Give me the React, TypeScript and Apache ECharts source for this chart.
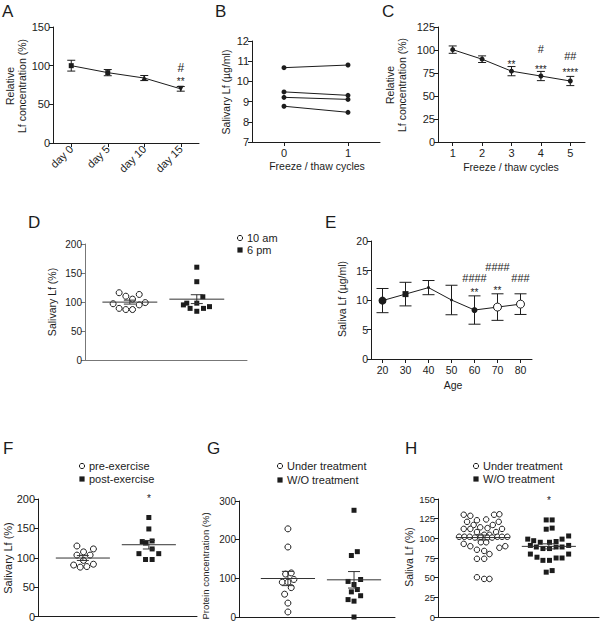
import React, { useEffect, useRef } from 'react';
import * as echarts from 'echarts';

const FONT = 'Liberation Sans, Arial, Helvetica, sans-serif';
const INK = '#1c1c1c';

// ---------- Panel A : storage days ----------
const daysA = ['day 0', 'day 5', 'day 10', 'day 15'];
const meanA = [100, 91, 84, 70];
const semA = [7, 4, 3.3, 3];
const symbolA = ['rect', 'rect', 'triangle', 'triangle'];
const rotateA = [0, 0, 0, 180];

// ---------- Panel B : freeze / thaw, individual samples ----------
const cyclesB = ['0', '1'];
const sampleB1 = [10.68, 10.81];
const sampleB2 = [9.48, 9.31];
const sampleB3 = [9.21, 9.11];
const sampleB4 = [8.77, 8.47];

// ---------- Panel C : freeze / thaw cycles ----------
const cyclesC = ['1', '2', '3', '4', '5'];
const meanC = [100.4, 90, 77, 71.7, 66.3];
const semC = [4, 3.6, 5, 5, 5];

// ---------- Panel D : time of day ----------
const dAmValues = [116, 110, 105, 113, 97, 89, 87, 87, 95, 99];
const dAmJitter = [-0.16, -0.06, 0.04, 0.14, -0.25, -0.16, -0.06, 0.04, 0.14, 0.23];
const dPmValues = [160, 135, 109, 95, 98, 98, 89, 84, 89, 92];
const dPmJitter = [0, 0, 0.09, -0.2, -0.15, 0, -0.1, 0, 0.1, 0.19];

// ---------- Panel E : age ----------
const agesE = ['20', '30', '40', '50', '60', '70', '80'];
const meanE = [9.9, 11, 12.1, 10, 8.3, 8.8, 9.3];
const semE = [2.05, 2, 1.2, 2.5, 2.4, 2.25, 1.75];
const markerE = ['big', 'square', 'small', 'small', 'dot', 'open', 'open'];

// ---------- Panel F : exercise ----------
const fPreValues = [120, 110, 104.5, 115, 104.5, 95.5, 87.6, 84, 85, 89];
const fPreJitter = [-0.09, 0.01, 0.11, 0.16, -0.09, 0.01, -0.14, -0.04, 0.06, 0.16];
const fPostValues = [168.5, 149, 127.5, 125, 128.6, 115, 107, 107, 97, 97];
const fPostJitter = [0, 0, -0.1, -0.05, 0.05, 0.05, -0.15, 0.15, -0.05, 0.05];

// ---------- Panel G : protein concentration ----------
const gUnderValues = [228, 181, 111, 114, 90, 90, 97, 76, 59, 36, 13];
const gUnderJitter = [0, 0, -0.035, 0.05, -0.085, 0, 0.09, 0.05, -0.05, 0, 0];
const gWoValues = [276, 169, 159, 92, 97, 84, 65, 71, 55, 45, 41, 0];
const gWoJitter = [0, 0.05, -0.04, -0.09, 0.1, 0, -0.04, 0.05, 0.1, -0.09, 0, 0];

// ---------- Panel H : saliva Lf ----------
const hUnderValues = [
  130, 128.6, 130, 130.6,
  121, 123, 124, 121,
  117, 114, 117,
  112, 112, 113, 112,
  108, 108,
  104.5, 104.5,
  102, 102, 102, 101, 102, 101, 101, 102, 102, 102,
  95, 95,
  93, 90, 88, 90,
  85.5, 84, 80,
  74, 74,
  50.5, 48.4, 48.4,
];
const hUnderJitter = [
  -0.29, -0.19, 0.17, 0.25,
  -0.24, -0.09, 0.05, 0.24,
  -0.14, -0.04, 0.15,
  -0.29, -0.19, 0.07, 0.29,
  -0.09, 0.2,
  0.02, 0.1,
  -0.36, -0.28, -0.2, -0.12, -0.03, 0.07, 0.14, 0.22, 0.29, 0.37,
  -0.03, 0.05,
  -0.29, -0.19, 0.25, 0.34,
  -0.09, 0.02, 0.1,
  -0.09, 0.02,
  -0.09, 0.02, 0.1,
];
const hWoValues = [
  123.4, 123.4,
  111.6, 113,
  99, 97,
  95, 95, 96, 99, 103,
  91, 89, 87, 87, 89, 89, 91,
  80, 76, 72, 72, 75, 75, 80,
  57, 59,
];
const hWoJitter = [
  -0.04, 0.05,
  -0.04, 0.05,
  -0.32, -0.23,
  -0.13, 0.01, 0.11, 0.2, 0.3,
  -0.28, -0.19, -0.09, 0.01, 0.11, 0.2, 0.3,
  -0.28, -0.18, -0.09, 0.01, 0.11, 0.2, 0.3,
  -0.04, 0.05,
];

// significance marks: [x, y, text]
const annA: [number, number, string][] = [[3, 97, '#'], [3, 83, '**']];
const annC: [number, number, string][] = [[2, 87, '**'], [3, 81.5, '***'], [3, 101, '#'], [4, 78, '****'], [4, 93, '##']];
const annE: [number, number, string][] = [[4, 13.8, '####'], [4, 11.7, '**'], [5, 15.6, '####'], [5, 12.1, '**'], [6, 13.8, '###']];
const annF: [number, number, string][] = [[2, 205, '*']];
const annH: [number, number, string][] = [[2, 151.5, '*']];

function avg(a: number[]) {
  return a.reduce((s, v) => s + v, 0) / a.length;
}
function sem(a: number[]) {
  const m = avg(a);
  const v = a.reduce((s, x) => s + (x - m) * (x - m), 0) / (a.length - 1);
  return Math.sqrt(v / a.length);
}

function axisLine(color = INK) {
  return { show: true, onZero: false, lineStyle: { color, width: 1 } };
}
function tick(color = INK) {
  return { show: true, length: 4, lineStyle: { color, width: 1 } };
}

function yValue(gridIndex: number, min: number, max: number, interval: number, size: number, color = INK) {
  return {
    type: 'value', gridIndex, min, max, interval,
    axisLine: axisLine(color), axisTick: tick(color), splitLine: { show: false },
    axisLabel: { color: INK, fontFamily: FONT, fontSize: size, margin: 3 },
  };
}
function xCat(gridIndex: number, data: string[], size: number, extra: any = {}) {
  return {
    type: 'category', gridIndex, data, boundaryGap: true,
    axisLine: axisLine(), axisTick: { ...tick(), alignWithLabel: true }, splitLine: { show: false },
    axisLabel: { color: INK, fontFamily: FONT, fontSize: size, margin: 5, ...extra },
  };
}
function xDot(gridIndex: number, min: number, max: number, color = INK) {
  return {
    type: 'value', gridIndex, min, max,
    axisLine: axisLine(color), axisTick: { show: false }, axisLabel: { show: false }, splitLine: { show: false },
  };
}

function errSeries(gi: number, means: number[], errs: number[], cap: number) {
  return {
    type: 'custom', xAxisIndex: gi, yAxisIndex: gi, z: 2, silent: true,
    data: means.map((m, i) => [i, m, errs[i]]),
    renderItem: (params: any, api: any) => {
      const x = api.value(0), m = api.value(1), e = api.value(2);
      const t = api.coord([x, m + e]);
      const b = api.coord([x, m - e]);
      const st = { stroke: INK, lineWidth: 1 };
      return {
        type: 'group',
        children: [
          { type: 'line', shape: { x1: t[0], y1: t[1], x2: b[0], y2: b[1] }, style: st },
          { type: 'line', shape: { x1: t[0] - cap, y1: t[1], x2: t[0] + cap, y2: t[1] }, style: st },
          { type: 'line', shape: { x1: b[0] - cap, y1: b[1], x2: b[0] + cap, y2: b[1] }, style: st },
        ],
      };
    },
  };
}

function summarySeries(gi: number, groups: number[][]) {
  const data = groups.map((g, i) => [i + 1, avg(g), sem(g)]);
  return {
    type: 'custom', xAxisIndex: gi, yAxisIndex: gi, z: 4, silent: true,
    data,
    renderItem: (params: any, api: any) => {
      const x = api.value(0), m = api.value(1), e = api.value(2);
      const l = api.coord([x - 0.41, m]);
      const r = api.coord([x + 0.41, m]);
      const t = api.coord([x, m + e]);
      const b = api.coord([x, m - e]);
      const st = { stroke: '#333', lineWidth: 1 };
      const cap = 6;
      return {
        type: 'group',
        children: [
          { type: 'line', shape: { x1: l[0], y1: l[1], x2: r[0], y2: r[1] }, style: st },
          { type: 'line', shape: { x1: t[0], y1: t[1], x2: b[0], y2: b[1] }, style: st },
          { type: 'line', shape: { x1: t[0] - cap, y1: t[1], x2: t[0] + cap, y2: t[1] }, style: st },
          { type: 'line', shape: { x1: b[0] - cap, y1: b[1], x2: b[0] + cap, y2: b[1] }, style: st },
        ],
      };
    },
  };
}

function annSeries(gi: number, items: [number, number, string][], hashSize: number, starSize: number) {
  return {
    type: 'custom', xAxisIndex: gi, yAxisIndex: gi, z: 5, silent: true, clip: false,
    data: items.map((a) => [a[0], a[1]]),
    renderItem: (params: any, api: any) => {
      const p = api.coord([api.value(0), api.value(1)]);
      const txt = items[params.dataIndex][2];
      const star = txt.charAt(0) === '*';
      const size = star ? starSize : hashSize;
      return {
        type: 'text',
        x: p[0],
        y: p[1] + (star ? size * 0.25 : 0),
        style: { text: txt, fontSize: size, fontFamily: FONT, fill: INK, align: 'center', verticalAlign: 'middle' },
      };
    },
  };
}

function dots(gi: number, vals: number[], jit: number[], center: number, open: boolean, size: number, name: string) {
  return {
    type: 'scatter', name, xAxisIndex: gi, yAxisIndex: gi, z: 3, silent: true,
    data: vals.map((v, i) => [center + jit[i], v]),
    symbol: open ? 'circle' : 'rect',
    symbolSize: size,
    itemStyle: open ? { color: '#fff', borderColor: INK, borderWidth: 1, opacity: 1 } : { color: INK, opacity: 1 },
  };
}

function txt(text: string, x: number, y: number, size: number, extra: any = {}) {
  return {
    type: 'text', x, y, silent: true, rotation: extra.rotation || 0,
    style: {
      text, fill: INK, fontFamily: FONT, fontSize: size,
      align: extra.align || 'center', verticalAlign: 'middle',
      lineHeight: extra.lineHeight,
    },
  };
}
const ROT = Math.PI / 2;

function legend(cx: number, cy1: number, cy2: number, label1: string, label2: string) {
  return [
    { type: 'circle', silent: true, shape: { cx, cy: cy1, r: 2.6 }, style: { fill: '#fff', stroke: INK, lineWidth: 1 } },
    txt(label1, cx + 7, cy1, 11, { align: 'left' }),
    { type: 'rect', silent: true, shape: { x: cx - 2.6, y: cy2 - 2.6, width: 5.2, height: 5.2 }, style: { fill: INK } },
    txt(label2, cx + 7, cy2, 11, { align: 'left' }),
  ];
}

function buildOption() {
  const grids = [
    { left: 53, top: 27, width: 146, height: 116 }, // A
    { left: 252, top: 41, width: 128, height: 101 }, // B
    { left: 438, top: 27, width: 147, height: 115 }, // C
    { left: 85, top: 244, width: 162, height: 116 }, // D
    { left: 371, top: 241, width: 161, height: 118 }, // E
    { left: 38, top: 499, width: 159, height: 119 }, // F
    { left: 239, top: 501, width: 156, height: 117 }, // G
    { left: 438, top: 499, width: 161, height: 119 }, // H
  ].map((g) => ({ ...g, containLabel: false }));

  const GREY = '#777';
  const xAxis = [
    xCat(0, daysA, 11, { rotate: 45, margin: 4 }),
    xCat(1, cyclesB, 11),
    xCat(2, cyclesC, 11),
    xDot(3, 0.33, 2.75, GREY),
    xCat(4, agesE, 10.5),
    xDot(5, 0.32, 2.73),
    xDot(6, 0.26, 2.62),
    xDot(7, 0.32, 2.76),
  ];
  const yAxis = [
    yValue(0, 0, 150, 50, 11),
    yValue(1, 7, 12, 1, 11),
    yValue(2, 0, 125, 25, 11),
    yValue(3, 0, 200, 50, 10, GREY),
    yValue(4, 0, 20, 5, 10.5),
    yValue(5, 0, 200, 50, 11),
    yValue(6, 0, 300, 100, 10),
    yValue(7, 0, 150, 25, 9.5),
  ];

  const lineStyle = { color: INK, width: 1 };
  const series: any[] = [];

  // A
  series.push(errSeries(0, meanA, semA, 4));
  series.push({
    type: 'line', xAxisIndex: 0, yAxisIndex: 0, z: 3, silent: true, lineStyle,
    data: meanA.map((v, i) => ({
      value: v, symbol: symbolA[i], symbolRotate: rotateA[i], symbolSize: symbolA[i] === 'rect' ? 5 : 6,
    })),
    itemStyle: { color: INK },
  });
  series.push(annSeries(0, annA, 12, 10));

  // B
  [sampleB1, sampleB2, sampleB3, sampleB4].forEach((s) => {
    series.push({
      type: 'line', xAxisIndex: 1, yAxisIndex: 1, silent: true, lineStyle,
      data: s, symbol: 'circle', symbolSize: 5, itemStyle: { color: INK },
    });
  });

  // C
  series.push(errSeries(2, meanC, semC, 4));
  series.push({
    type: 'line', xAxisIndex: 2, yAxisIndex: 2, z: 3, silent: true, lineStyle,
    data: meanC, symbol: 'circle', symbolSize: 5, itemStyle: { color: INK },
  });
  series.push(annSeries(2, annC, 11, 10));

  // D
  series.push(dots(3, dAmValues, dAmJitter, 1, true, 6, '10 am'));
  series.push(dots(3, dPmValues, dPmJitter, 2, false, 5, '6 pm'));
  series.push(summarySeries(3, [dAmValues, dPmValues]));

  // E
  series.push(errSeries(4, meanE, semE, 6));
  series.push({
    type: 'line', xAxisIndex: 4, yAxisIndex: 4, z: 3, silent: true, lineStyle,
    data: meanE.map((v, i) => {
      const k = markerE[i];
      if (k === 'big') return { value: v, symbol: 'circle', symbolSize: 8, itemStyle: { color: INK } };
      if (k === 'square') return { value: v, symbol: 'rect', symbolSize: 6, itemStyle: { color: INK } };
      if (k === 'small') return { value: v, symbol: 'circle', symbolSize: 3, itemStyle: { color: INK } };
      if (k === 'dot') return { value: v, symbol: 'circle', symbolSize: 6, itemStyle: { color: INK } };
      return { value: v, symbol: 'circle', symbolSize: 8, itemStyle: { color: '#fff', borderColor: INK, borderWidth: 1 } };
    }),
  });
  series.push(annSeries(4, annE, 11, 10));

  // F
  series.push(dots(5, fPreValues, fPreJitter, 1, true, 6, 'pre-exercise'));
  series.push(dots(5, fPostValues, fPostJitter, 2, false, 5, 'post-exercise'));
  series.push(summarySeries(5, [fPreValues, fPostValues]));
  series.push(annSeries(5, annF, 11, 10));

  // G
  series.push(dots(6, gUnderValues, gUnderJitter, 1, true, 6, 'Under treatment'));
  series.push(dots(6, gWoValues, gWoJitter, 2, false, 5, 'W/O treatment'));
  series.push(summarySeries(6, [gUnderValues, gWoValues]));

  // H
  series.push(dots(7, hUnderValues, hUnderJitter, 1, true, 5.5, 'Under treatment'));
  series.push(dots(7, hWoValues, hWoJitter, 2, false, 5, 'W/O treatment'));
  series.push(summarySeries(7, [hUnderValues, hWoValues]));
  series.push(annSeries(7, annH, 11, 10));

  const graphic: any[] = [
    // panel letters
    txt('A', 2, 11, 17, { align: 'left' }),
    txt('B', 215, 11, 17, { align: 'left' }),
    txt('C', 382, 11, 17, { align: 'left' }),
    txt('D', 28, 222, 17, { align: 'left' }),
    txt('E', 325, 222, 17, { align: 'left' }),
    txt('F', 3, 448, 17, { align: 'left' }),
    txt('G', 207, 448, 17, { align: 'left' }),
    txt('H', 405, 448, 17, { align: 'left' }),
    // axis titles
    txt('Relative\nLf concentration (%)', 16, 86, 10.5, { rotation: ROT, lineHeight: 12 }),
    txt('Salivary Lf (µg/ml)', 226, 92, 10.5, { rotation: ROT }),
    txt('Freeze / thaw cycles', 317, 166, 10.5),
    txt('Relative\nLf concentration (%)', 395.5, 85, 10.5, { rotation: ROT, lineHeight: 12 }),
    txt('Freeze / thaw cycles', 511, 167, 10.5),
    txt('Salivary Lf (%)', 52, 302, 10.5, { rotation: ROT }),
    txt('Saliva Lf (µg/ml)', 342, 299, 10.5, { rotation: ROT }),
    txt('Age', 453, 385, 10.5),
    txt('Salivary Lf (%)', 8, 558, 11, { rotation: ROT }),
    txt('Protein concentration (%)', 205, 566, 9.5, { rotation: ROT }),
    txt('Saliva Lf (%)', 409, 557, 10.5, { rotation: ROT }),
    // legends
    ...legend(240, 238, 250, '10 am', '6 pm'),
    ...legend(82, 466, 479, 'pre-exercise', 'post-exercise'),
    ...legend(280, 466, 480, 'Under treatment', 'W/O treatment'),
    ...legend(476, 466, 479, 'Under treatment', 'W/O treatment'),
  ];

  return {
    animation: false,
    backgroundColor: '#fff',
    textStyle: { fontFamily: FONT },
    grid: grids,
    xAxis,
    yAxis,
    series,
    graphic,
  };
}

export default function App() {
  const ref = useRef<HTMLDivElement>(null);
  useEffect(() => {
    if (!ref.current) return;
    const chart = echarts.init(ref.current, undefined, { renderer: 'svg' });
    chart.setOption(buildOption() as any);
    return () => chart.dispose();
  }, []);
  return (
    <div
      ref={ref}
      style={{ position: 'absolute', left: 0, top: 0, width: 600, height: 622, background: '#fff' }}
    />
  );
}
